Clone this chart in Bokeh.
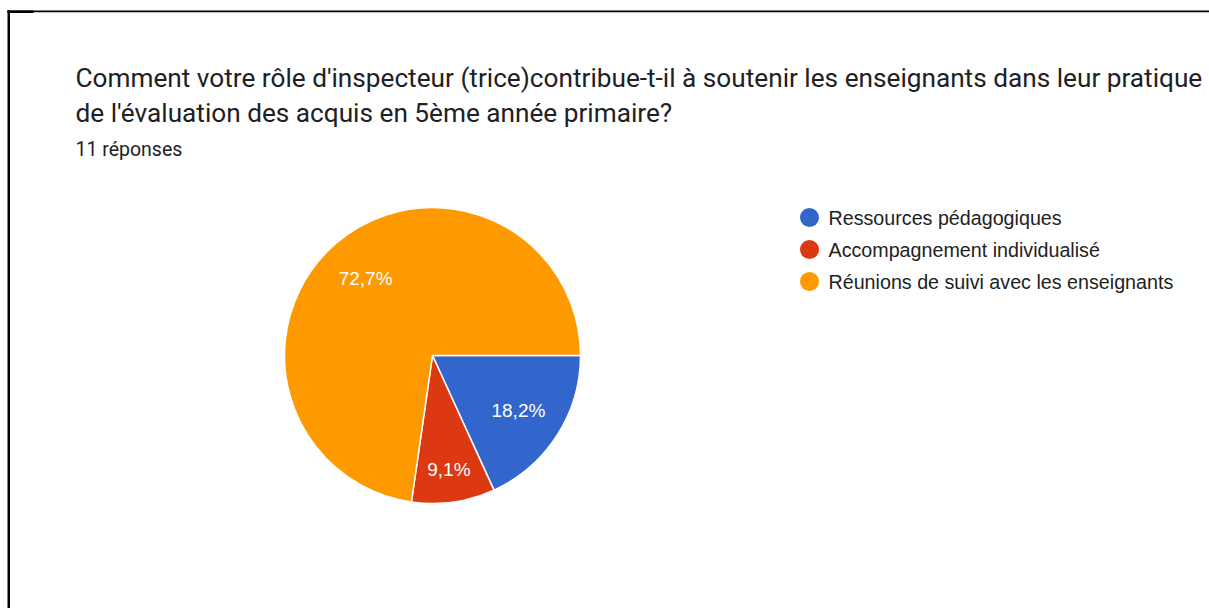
from bokeh.plotting import figure
from bokeh.models import Range1d, BoxAnnotation, ColumnDataSource
from bokeh.core.properties import value
from bokeh.embed import file_html
from bokeh.resources import INLINE
import math

# ---- data ----
categories = ["Ressources pédagogiques", "Accompagnement individualisé", "Réunions de suivi avec les enseignants"]
counts = [2, 1, 8]
colors = ["#3366cc", "#dc3912", "#ff9900"]
title_lines = ["Comment votre rôle d'inspecteur (trice)contribue-t-il à soutenir les enseignants dans leur pratique",
               "de l'évaluation des acquis en 5ème année primaire?"]
subtitle = "11 réponses"

W, H = 1209, 608
p = figure(width=W, height=H, output_backend="svg", toolbar_location=None,
           x_range=Range1d(0, W), y_range=Range1d(0, H),
           min_border=0, outline_line_color=None)
p.xaxis.visible = False
p.yaxis.visible = False
p.grid.visible = False
p.background_fill_color = "white"
p.border_fill_color = "white"

def Y(img_y):
    return 608 - img_y

# border lines (decoration)
p.add_layout(BoxAnnotation(left=7, right=9.5, top=Y(10), fill_color="black", fill_alpha=1, line_color=None))
p.add_layout(BoxAnnotation(left=7, top=Y(10), bottom=Y(11.8), fill_color="black", fill_alpha=1, line_color=None))
p.add_layout(BoxAnnotation(left=7, right=33, top=Y(10), bottom=Y(12.5), fill_color="black", fill_alpha=1, line_color=None))

# pie
total = sum(counts)
cx, cy, R = 432, Y(355), 148
starts, ends, lx, ly, labs = [], [], [], [], []
cum = 0.0
for c in counts:
    frac = c / total
    a0 = -cum * 2 * math.pi
    a1 = -(cum + frac) * 2 * math.pi
    starts.append(a0)
    ends.append(a1)
    mid = (a0 + a1) / 2
    rr = R * (0.69 if frac > 0.15 else 0.78)
    lx.append(cx + rr * math.cos(mid))
    ly.append(cy + rr * math.sin(mid))
    labs.append(f"{frac*100:.1f}%".replace(".", ","))
    cum += frac

src = ColumnDataSource(dict(start=starts, end=ends, color=colors))
p.wedge(x=cx, y=cy, radius=R, start_angle="start", end_angle="end", direction="clock",
        fill_color="color", line_color="white", line_width=1.5, source=src)
p.text(x=lx, y=ly, text=labs, text_color="white", text_font=value("Liberation Sans"),
       text_font_size="19px", text_align="center", text_baseline="middle")

# title
p.text(x=[75, 75], y=[Y(77), Y(112)], text=title_lines, text_color="#202124",
       text_font=value("Roboto"), text_font_size="26.2px", text_baseline="alphabetic")
p.text(x=[75], y=[Y(149)], text=[subtitle], text_color="#202124",
       text_font=value("Roboto"), text_font_size="19.5px", text_baseline="alphabetic")

# legend
ys = [Y(217 + 32 * i) for i in range(len(categories))]
p.scatter(x=[809] * len(categories), y=ys, size=19, marker="circle",
          fill_color=colors, line_color=None)
p.text(x=[828] * len(categories), y=ys, text=categories, text_color="#222222",
       text_font=value("Liberation Sans"), text_font_size="19.7px", text_baseline="middle")

open("out.html", "w").write(file_html(p, INLINE))
